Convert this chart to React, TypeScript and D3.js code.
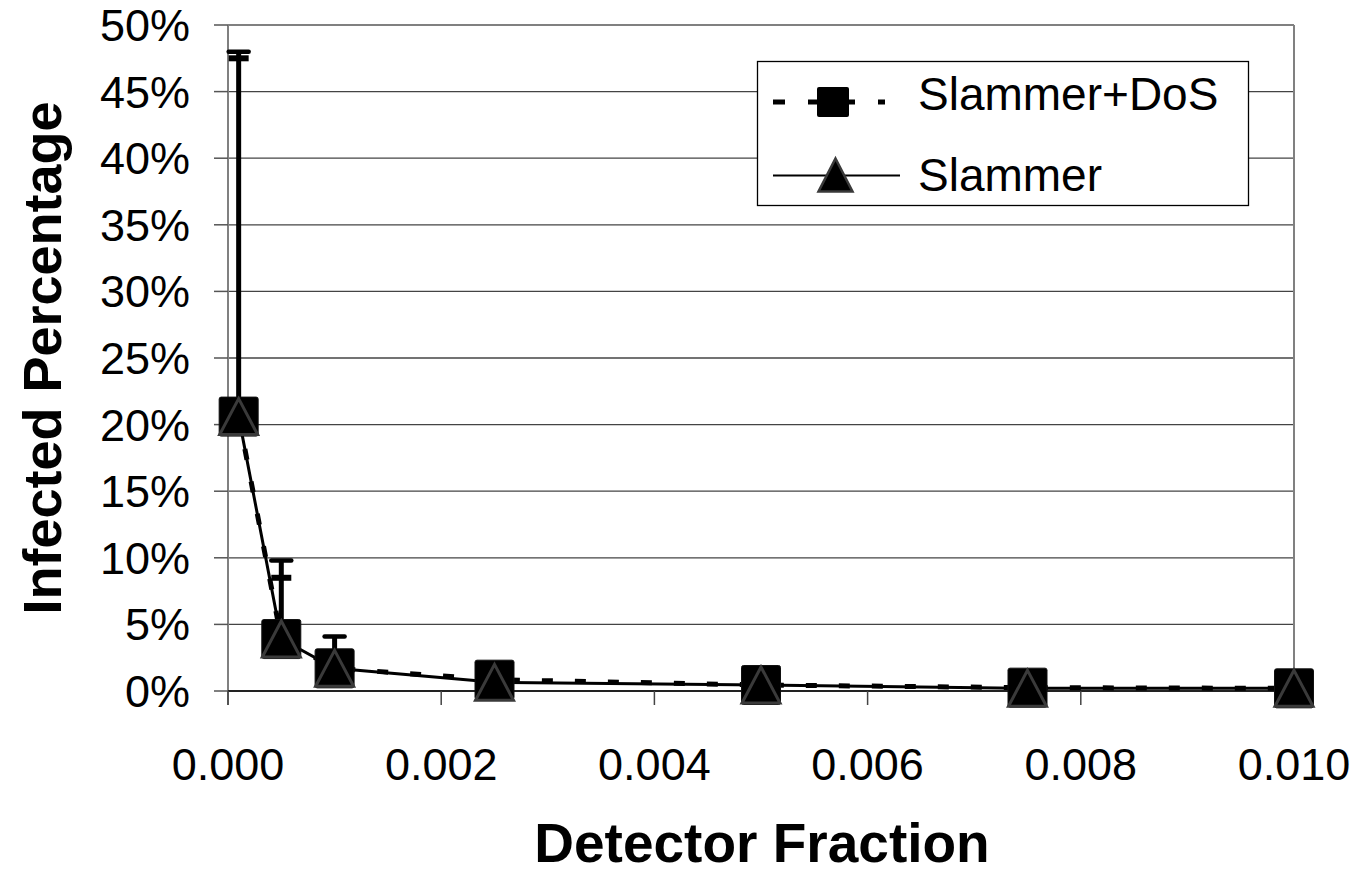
import React from 'react';
import * as d3 from 'd3';

// data
const detectorFraction = [0.0001, 0.0005, 0.001, 0.0025, 0.005, 0.0075, 0.01];
const slammerDos = [20.6, 3.9, 1.7, 0.85, 0.45, 0.25, 0.2];
const slammerDosErr = [27.4, 5.9, 2.4, 0.5, 0.3, 0.2, 0.1];
const slammer = [20.6, 3.9, 1.7, 0.65, 0.45, 0.2, 0.2];
const slammerErr = [26.9, 4.6, 1.1, 0.4, 0.2, 0.1, 0.1];
const xTicks = [0, 0.002, 0.004, 0.006, 0.008, 0.01];
const yTicks = [0, 5, 10, 15, 20, 25, 30, 35, 40, 45, 50];

const FONT = '"Liberation Sans", Arial, Helvetica, sans-serif';

const App = () => {
  const width = 1359, height = 876;
  const margin = { top: 25, right: 65, bottom: 185, left: 228 };

  const x = d3.scaleLinear().domain([0, 0.01]).range([margin.left, width - margin.right]);
  const y = d3.scaleLinear().domain([0, 50]).range([height - margin.bottom, margin.top]);

  const line = d3.line<number>()
    .x((d, i) => x(detectorFraction[i]))
    .y(d => y(d));

  const fmtX = d3.format('.3f');
  const x0 = x.range()[0], x1 = x.range()[1];
  const y0 = y.range()[0], y1 = y.range()[1];

  const triPath = (cx, cy, w, h) =>
    `M${cx},${cy - h / 2} L${cx + w / 2},${cy + h / 2} L${cx - w / 2},${cy + h / 2} Z`;

  return (
    <svg width={width} height={height}
      style={{ position: 'absolute', left: 0, top: 0, background: '#fff' }}
      fontFamily={FONT}>
      {/* gridlines */}
      {yTicks.filter(t => t > 0 && t < 50).map(t => (
        <line key={'g' + t} x1={x0} x2={x1} y1={y(t)} y2={y(t)} stroke="#444" strokeWidth={1.3} />
      ))}
      {/* plot border (top / right) */}
      <line x1={x0} x2={x1} y1={y1} y2={y1} stroke="#808080" strokeWidth={2} />
      <line x1={x1} x2={x1} y1={y1} y2={y0} stroke="#808080" strokeWidth={2} />

      {/* y axis */}
      <line x1={x0} x2={x0} y1={y1} y2={y0 + 14} stroke="#808080" strokeWidth={2} />
      {yTicks.map(t => (
        <g key={'y' + t}>
          <line x1={x0 - 14} x2={x0} y1={y(t)} y2={y(t)} stroke="#555" strokeWidth={1.5} />
          <text x={190} y={y(t) + 16} textAnchor="end" fontSize={45}>{t}%</text>
        </g>
      ))}

      {/* x axis */}
      <line x1={x0} x2={x1} y1={y0} y2={y0} stroke="#222" strokeWidth={2} />
      {xTicks.map(t => (
        <g key={'x' + t}>
          <line x1={x(t)} x2={x(t)} y1={y0} y2={y0 + 14} stroke="#444" strokeWidth={1.5} />
          <text x={x(t)} y={780} textAnchor="middle" fontSize={45}>{fmtX(t)}</text>
        </g>
      ))}

      {/* axis titles */}
      <text x={762} y={862} textAnchor="middle" fontSize={55} fontWeight="bold">Detector Fraction</text>
      <text transform="translate(61,358) rotate(-90)" textAnchor="middle" fontSize={54} fontWeight="bold">
        Infected Percentage
      </text>

      {/* series lines */}
      <path d={line(slammer) || ''} fill="none" stroke="#000" strokeWidth={3} />
      <path d={line(slammerDos) || ''} fill="none" stroke="#000" strokeWidth={5} strokeDasharray="11,22" />

      {/* error bars (plus only) */}
      {slammerDos.map((v, i) => {
        const cx = x(detectorFraction[i]);
        return (
          <g key={'ed' + i}>
            <line x1={cx} x2={cx} y1={y(v)} y2={y(v + slammerDosErr[i])} stroke="#000" strokeWidth={5} />
            <line x1={cx - 10} x2={cx + 10} y1={y(v + slammerDosErr[i])} y2={y(v + slammerDosErr[i])}
              stroke="#000" strokeWidth={4.5} strokeLinecap="round" />
          </g>
        );
      })}
      {slammer.map((v, i) => {
        const cx = x(detectorFraction[i]);
        return (
          <g key={'es' + i}>
            <line x1={cx} x2={cx} y1={y(v)} y2={y(v + slammerErr[i])} stroke="#000" strokeWidth={3} />
            <line x1={cx - 10} x2={cx + 10} y1={y(v + slammerErr[i])} y2={y(v + slammerErr[i])}
              stroke="#000" strokeWidth={6} />
          </g>
        );
      })}

      {/* markers */}
      {slammerDos.map((v, i) => (
        <rect key={'sq' + i} x={x(detectorFraction[i]) - 19.5} y={y(v) - 19.5} width={39} height={39}
          rx={2} fill="#000" stroke="#111" strokeWidth={1} />
      ))}
      {slammer.map((v, i) => (
        <path key={'tr' + i} d={triPath(x(detectorFraction[i]), y(v), 38, 36)}
          fill="#000" stroke="#3a3a3a" strokeWidth={3} strokeLinejoin="miter" />
      ))}

      {/* legend */}
      <rect x={757.5} y={61.5} width={491} height={144} fill="#fff" stroke="#000" strokeWidth={1.3} />
      <line x1={773} x2={885} y1={102} y2={102} stroke="#000" strokeWidth={5} strokeDasharray="12,23" />
      <rect x={817} y={87} width={32} height={30} rx={2} fill="#000" />
      <text x={918} y={110} fontSize={46}>Slammer+DoS</text>
      <line x1={773} x2={900} y1={175.5} y2={175.5} stroke="#000" strokeWidth={2} />
      <path d={triPath(835.5, 175, 34, 33)} fill="#000" stroke="#3a3a3a" strokeWidth={2.5} />
      <text x={918} y={191} fontSize={46}>Slammer</text>
    </svg>
  );
};

export default App;
